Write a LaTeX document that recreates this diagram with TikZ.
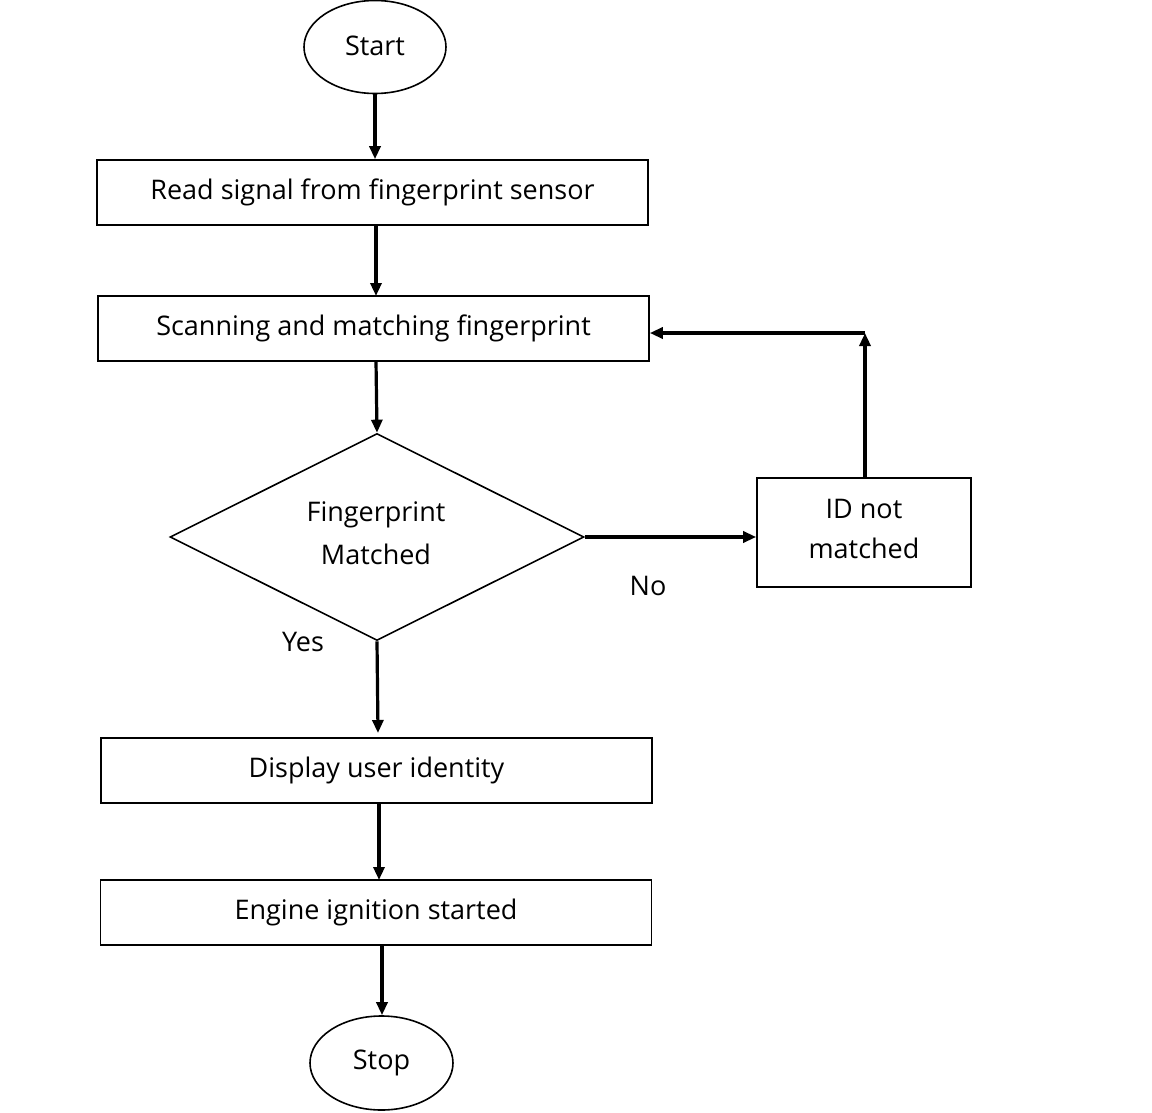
\documentclass[tikz,border=0pt]{standalone}
\usepackage{fontspec}
\setmainfont{Open Sans}
\usetikzlibrary{shapes.geometric,arrows.meta}
\newcommand{\up}[1]{\raisebox{3pt}{#1}}
\begin{document}
\begin{tikzpicture}[x=1pt,y=-1pt,
  every node/.style={font=\fontsize{27}{40}\selectfont},
  term/.style={draw,ellipse,line width=1.6pt,minimum width=142pt,minimum height=93pt,inner sep=0pt},
  procbox/.style={draw,rectangle,line width=1.6pt,minimum width=551pt,minimum height=65pt,inner sep=0pt},
  decide/.style={draw,diamond,line width=1.6pt,minimum width=414pt,minimum height=207pt,inner sep=0pt,shape aspect=2,align=center},
  flow/.style={line width=3.2pt,-{Triangle[length=13pt,width=11pt]}},
  lbl/.style={inner sep=0pt}]
\useasboundingbox (0,0) rectangle (1152,1113);
\node[term] (start) at (375,47) {\up{Start}};
\node[procbox] (read) at (372.5,192.5) {\up{Read signal from fingerprint sensor}};
\node[procbox] (scan) at (373.5,328.5) {\up{Scanning and matching fingerprint}};
\node[decide] (dec) at (377,537) {};
\node[lbl] (t1) at (376,515) {Fingerprint};
\node[lbl] (t2) at (376,554) {Matched};
\node[draw,rectangle,line width=1.6pt,minimum width=214pt,minimum height=109pt,inner sep=0pt,align=center] (id) at (864,532.5) {\raisebox{8pt}{ID not}\\\raisebox{8pt}{matched}};
\node[procbox] (disp) at (376.5,770.5) {\up{Display user identity}};
\node[procbox] (eng) at (376,912.5) {\up{Engine ignition started}};
\node[term,minimum width=143pt,minimum height=94pt] (stop) at (381.5,1063) {\up{Stop}};
\node[lbl] (no) at (648,586) {No};
\node[lbl] (yes) at (303,642) {Yes};
\coordinate (corner) at (865,333);
\draw[flow] (start.south) -- (start.south |- read.north);
\draw[flow] (376,225) -- (376,296);
\draw[flow] (376,361) -- (dec.north);
\draw[flow] (dec.east) -- (id.west |- dec.east);
\draw[flow] (id.north -| corner) -- (corner);
\draw[flow] (corner) -- (corner -| scan.east);
\draw[flow] (dec.south) -- (378,733);
\draw[flow] (379,803) -- (379,880);
\draw[flow] (382,945) -- (stop.north -| 382,0);
\end{tikzpicture}
\end{document}
